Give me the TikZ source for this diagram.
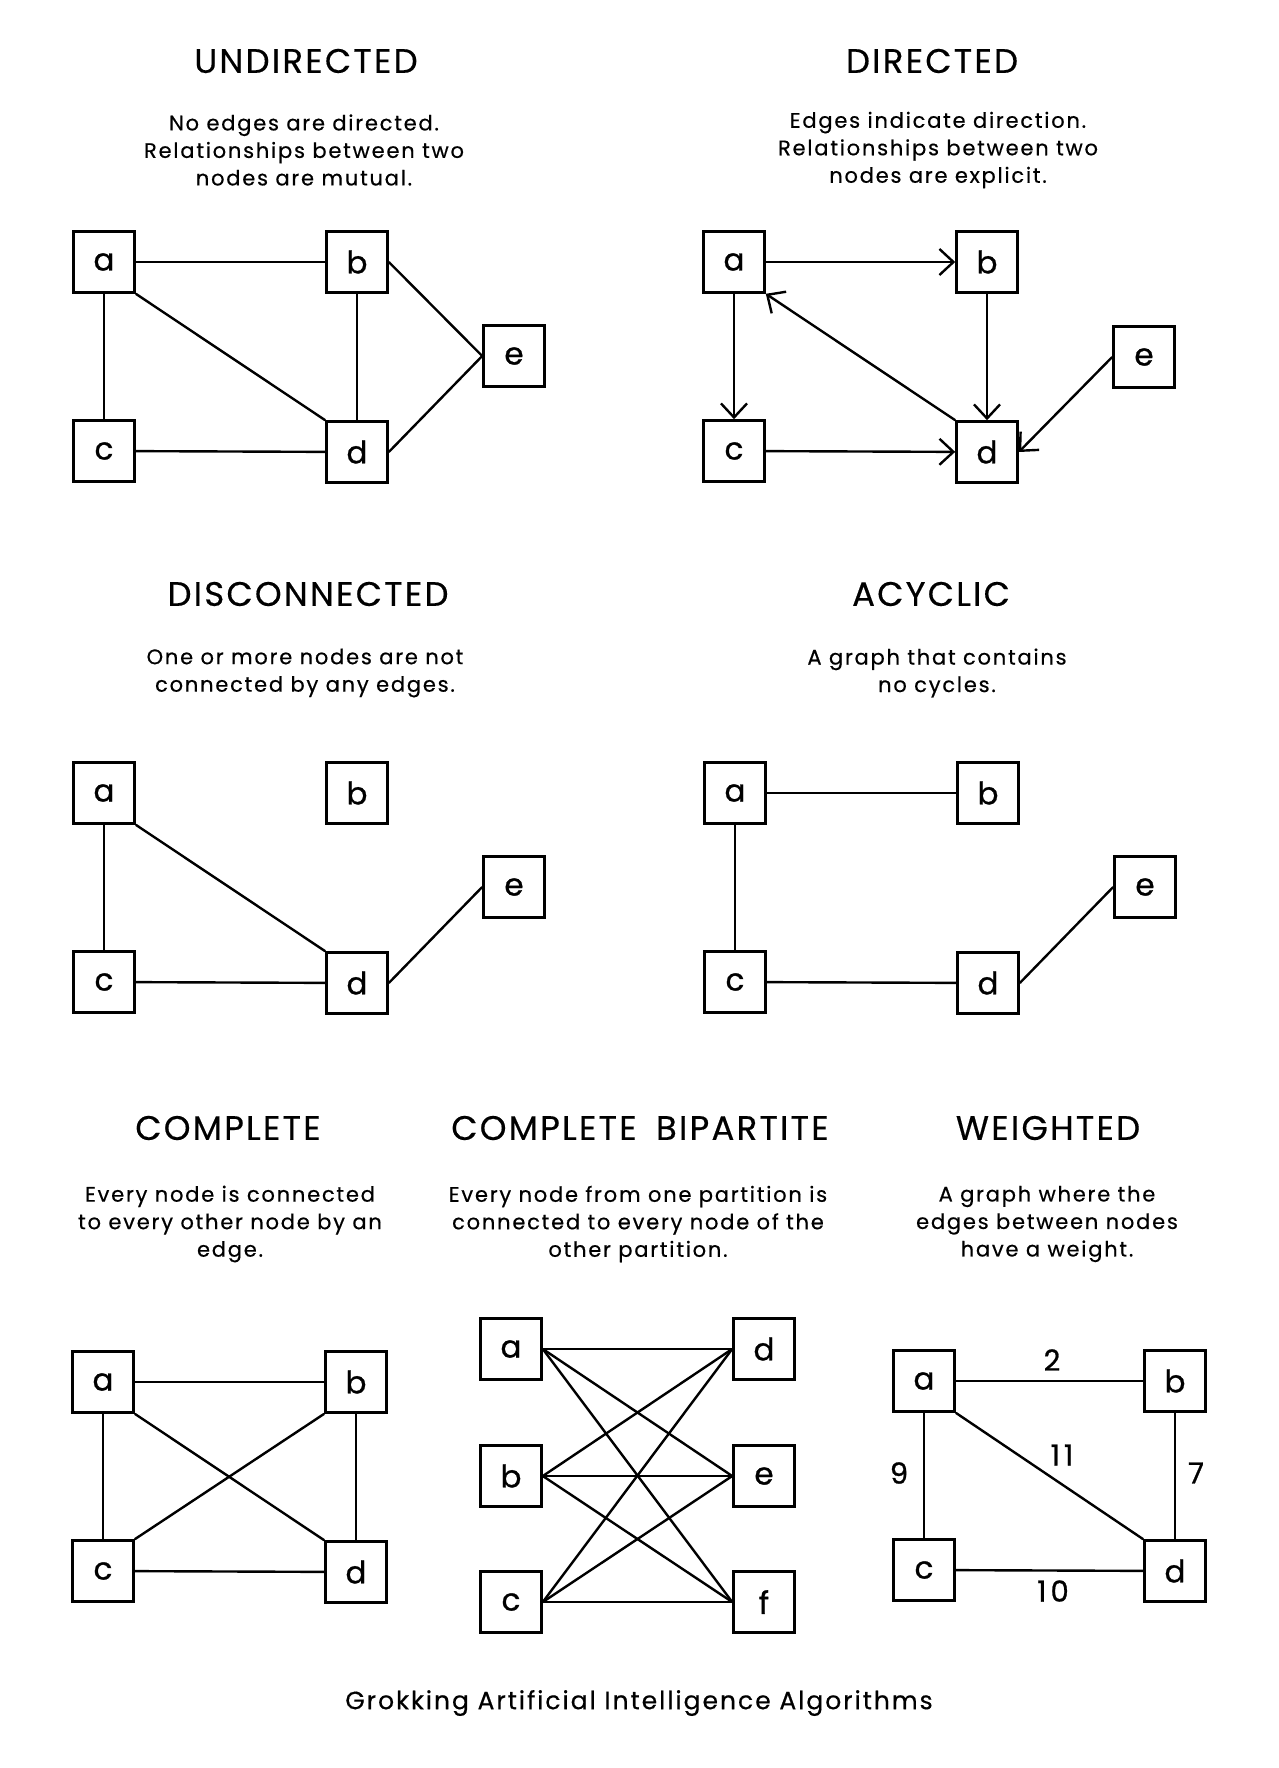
\documentclass[tikz,border=0pt]{standalone}
\usepackage{fontspec}
\setmainfont{Poppins}[FakeBold=0.5]
\newfontfamily\capfont{Poppins}[LetterSpace=8.5,FakeBold=0.5]
\newfontfamily\ttlfont{Poppins}[LetterSpace=6.5,FakeBold=0.4]
\newfontfamily\footfont{Poppins}[LetterSpace=8,FakeBold=0.5]
\newfontfamily\lblfont{Poppins}[FakeBold=0.9]
\newfontfamily\wtfont{Poppins}[LetterSpace=14,FakeBold=0.9]
\usetikzlibrary{arrows.meta}
\begin{document}
\begin{tikzpicture}[x=1pt,y=-1pt,
  box/.style={draw,line width=2.6pt,minimum size=61pt,inner sep=0pt,font=\lblfont\fontsize{31}{33}\selectfont},
  edge/.style={line width=2.4pt},
  arr/.style={edge,-{Straight Barb[length=14pt,width=26pt]}},
  ttl/.style={inner sep=0pt,font=\ttlfont\fontsize{34}{40}\selectfont},
  captxt/.style={inner sep=0pt,align=center,font=\capfont\fontsize{21}{27.5}\selectfont},
  wt/.style={inner sep=0pt,font=\wtfont\fontsize{29}{31}\selectfont}]
\useasboundingbox (0,0) rectangle (1278,1768);

% ---------- UNDIRECTED ----------
\node[ttl] (t1) at (306,61) {UNDIRECTED};
\node[captxt] (c1) at (304,150) {No edges are directed.\\Relationships between two\\nodes are mutual.};
\node[box] (ua) at (104,262) {a};
\node[box] (ub) at (357,262) {b};
\node[box] (uc) at (104,451) {c};
\node[box] (ud) at (357,452) {d};
\node[box] (ue) at (514,356) {e};
\draw[edge] (ua) -- (ub);
\draw[edge] (ua) -- (uc);
\draw[edge] (ua.south east) -- (ud.north west);
\draw[edge] (ub) -- (ud);
\draw[edge] (uc) -- (ud);
\draw[edge] (ub.east) -- (ue.west);
\draw[edge] (ud.east) -- (ue.west);

% ---------- DIRECTED ----------
\node[ttl] (t2) at (932,61) {DIRECTED};
\node[captxt] (c2) at (938,150) {Edges indicate direction.\\Relationships between two\\nodes are explicit.};
\node[box] (da) at (734,262) {a};
\node[box] (db) at (987,262) {b};
\node[box] (dc) at (734,451) {c};
\node[box] (dd) at (987,452) {d};
\node[box] (de) at (1144,357) {e};
\draw[arr] (da) -- (db);
\draw[arr] (da) -- (dc);
\draw[arr] (db) -- (dd);
\draw[arr] (dc) -- (dd);
\draw[arr] (dd.north west) -- (da.south east);
\draw[arr] (de.west) -- (dd.east);

% ---------- DISCONNECTED ----------
\node[ttl] (t3) at (308,594) {DISCONNECTED};
\node[captxt] (c3) at (305,673) {One or more nodes are not\\connected by any edges.};
\node[box] (xa) at (104,793) {a};
\node[box] (xb) at (357,793) {b};
\node[box] (xc) at (104,982) {c};
\node[box] (xd) at (357,983) {d};
\node[box] (xe) at (514,887) {e};
\draw[edge] (xa) -- (xc);
\draw[edge] (xa.south east) -- (xd.north west);
\draw[edge] (xc) -- (xd);
\draw[edge] (xd.east) -- (xe.west);

% ---------- ACYCLIC ----------
\node[ttl] (t4) at (931,594) {ACYCLIC};
\node[captxt] (c4) at (937,673) {A graph that contains\\no cycles.};
\node[box] (ya) at (735,793) {a};
\node[box] (yb) at (988,793) {b};
\node[box] (yc) at (735,982) {c};
\node[box] (yd) at (988,983) {d};
\node[box] (ye) at (1145,887) {e};
\draw[edge] (ya) -- (yb);
\draw[edge] (ya) -- (yc);
\draw[edge] (yc) -- (yd);
\draw[edge] (yd.east) -- (ye.west);

% ---------- COMPLETE ----------
\node[ttl] (t5) at (228,1128) {COMPLETE};
\node[captxt] (c5) at (230,1224) {Every node is connected\\to every other node by an\\edge.};
\node[box] (ka) at (103,1382) {a};
\node[box] (kb) at (356,1382) {b};
\node[box] (kc) at (103,1571) {c};
\node[box] (kd) at (356,1572) {d};
\draw[edge] (ka) -- (kb);
\draw[edge] (ka) -- (kc);
\draw[edge] (kb) -- (kd);
\draw[edge] (kc) -- (kd);
\draw[edge] (ka.south east) -- (kd.north west);
\draw[edge] (kb.south west) -- (kc.north east);

% ---------- COMPLETE BIPARTITE ----------
\node[ttl] (t6) at (640,1128) {COMPLETE\hspace{8pt} BIPARTITE};
\node[captxt] (c6) at (638,1224) {Every node from one partition is\\connected to every node of the\\other partition.};
\node[box] (pa) at (511,1349) {a};
\node[box] (pb) at (511,1476) {b};
\node[box] (pc) at (511,1602) {c};
\node[box] (pd) at (764,1349) {d};
\node[box] (pe) at (764,1476) {e};
\node[box] (pf) at (764,1602) {f};
\foreach \s in {pa,pb,pc}{
  \foreach \t in {pd,pe,pf}{
    \draw[edge] (\s.east) -- (\t.west);
  }
}

% ---------- WEIGHTED ----------
\node[ttl] (t7) at (1048,1128) {WEIGHTED};
\node[captxt] (c7) at (1047,1224) {A graph where the\\edges between nodes\\have a weight.};
\node[box] (wa) at (924,1381) {a};
\node[box] (wb) at (1175,1381) {b};
\node[box] (wc) at (924,1570) {c};
\node[box] (wd) at (1175,1571) {d};
\draw[edge] (wa) -- (wb);
\draw[edge] (wa) -- (wc);
\draw[edge] (wb) -- (wd);
\draw[edge] (wc) -- (wd);
\draw[edge] (wa.south east) -- (wd.north west);
\node[wt] (l2) at (1052,1360) {2};
\node[wt] (l11) at (1062,1455) {11};
\node[wt] (l9) at (899,1473) {9};
\node[wt] (l7) at (1196,1473) {7};
\node[wt] (l10) at (1053,1591) {10};

% ---------- footer ----------
\node[inner sep=0pt,font=\footfont\fontsize{25}{30}\selectfont] (foot) at (639,1703) {Grokking Artificial Intelligence Algorithms};
\end{tikzpicture}
\end{document}
